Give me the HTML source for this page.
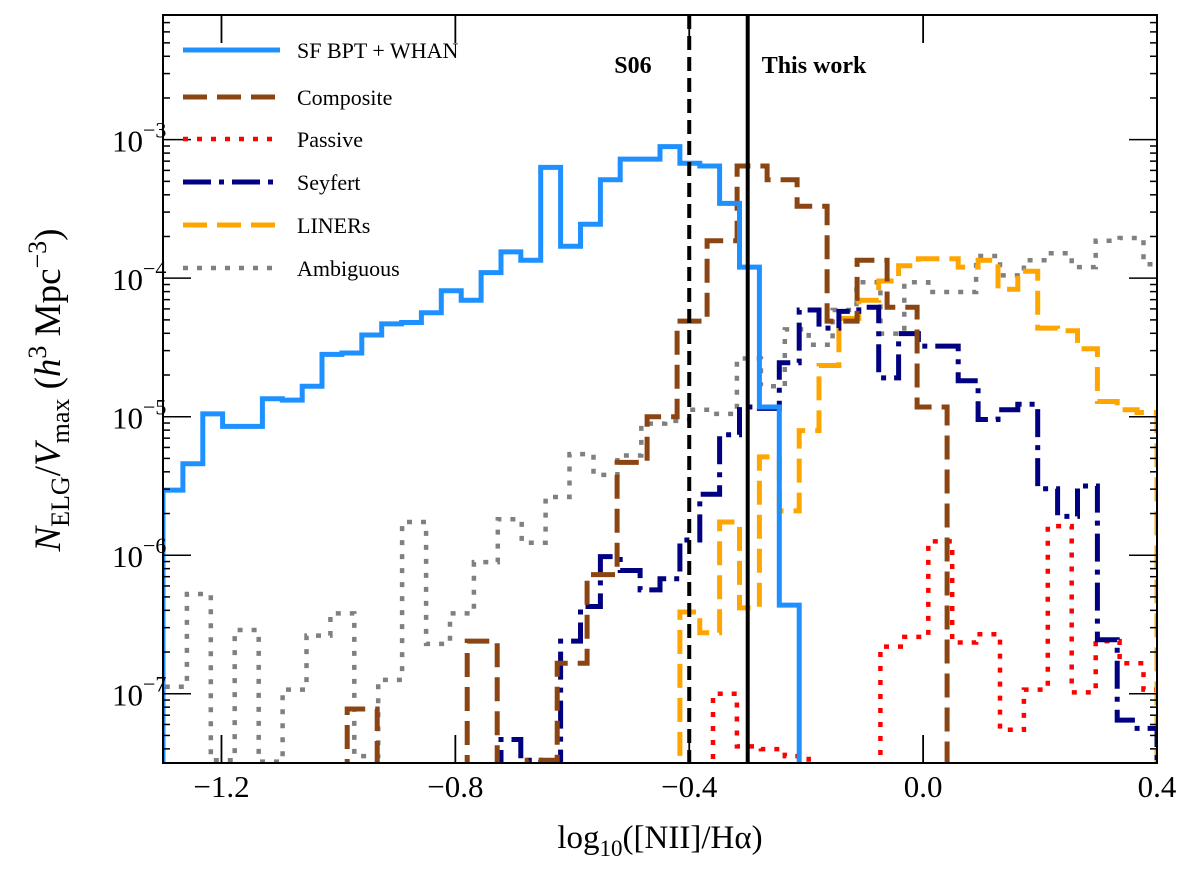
<!DOCTYPE html>
<html><head><meta charset="utf-8">
<style>
html,body{margin:0;padding:0;background:#fff;}
svg{display:block;font-family:"Liberation Serif","DejaVu Serif",serif;}
</style></head>
<body>
<svg id="chart" width="1200" height="881" viewBox="0 0 1200 881" xmlns="http://www.w3.org/2000/svg">
<defs><clipPath id="plotclip"><rect x="163" y="15" width="994" height="748"/></clipPath></defs>
<g id="series" clip-path="url(#plotclip)"></g>
<g id="axes"></g>
<g id="legend"></g>
</svg>
<script>
// Axis domains
const xDomain = [-1.3, 0.4];
const yLogDomain = [-7.5, -2.1];
// x tick labels
const xTicks = [-1.2, -0.8, -0.4, 0.0, 0.4];
const xTickLabels = ["\u22121.2", "\u22120.8", "\u22120.4", "0.0", "0.4"];
const yTickExps = [-7, -6, -5, -4, -3];
// Bin definitions (start, width)
const sfBins = [-1.3, 0.034];
const sfLog = [-5.53,-5.34,-4.98,-5.07,-5.07,-4.87,-4.88,-4.78,-4.55,-4.54,-4.41,-4.33,-4.32,-4.25,-4.09,-4.16,-3.96,-3.81,-3.87,-3.20,-3.77,-3.61,-3.29,-3.14,-3.14,-3.05,-3.17,-3.19,-3.46,-3.92,-4.93,-6.36];
const compBins = [-0.985, 0.0513];
const compLog = [-7.11,null,null,null,-6.62,null,-7.48,-6.78,-6.14,-5.33,-5.00,-4.31,-3.73,-3.19,-3.29,-3.48,-4.31,-3.87,-4.21,-4.93];
const passBins = [-1.3, 0.0409];
const passLog = [null,null,null,null,null,null,null,null,null,null,null,null,null,null,null,null,null,null,null,null,null,null,null,-7.0,-7.38,-7.40,-7.45,null,null,null,-6.66,-6.59,-5.90,-6.63,-6.57,-7.26,-6.97,-5.79,-6.99,-6.62,-6.78,-6.97];
const seyBins = [-1.3, 0.034];
const seyLog = [null,null,null,null,null,null,null,null,null,null,null,null,null,null,null,null,null,-7.33,-7.48,null,-6.62,-6.37,-6.01,-6.11,-6.25,-6.17,-5.89,-5.56,-5.13,-4.93,-4.94,-4.61,-4.23,-4.36,-4.24,-4.21,-4.72,-4.40,-4.49,-4.49,-4.74,-5.02,-4.95,-4.91,-5.52,-5.72,-5.50,-6.61,-7.19,-7.25];
const linBins = [-1.3, 0.034];
const linLog = [null,null,null,null,null,null,null,null,null,null,null,null,null,null,null,null,null,null,null,null,null,null,null,null,null,null,-6.41,-6.56,-5.76,-6.38,-5.29,-5.68,-5.10,-4.63,-4.29,-4.16,-4.02,-3.91,-3.86,-3.86,-3.92,-3.87,-4.08,-3.95,-4.36,-4.38,-4.51,-4.89,-4.95,-4.97];
const ambBins = [-1.3, 0.0409];
const ambLog = [-6.95,-6.28,-7.48,-6.54,-7.49,-6.97,-6.58,-6.42,-7.45,-6.90,-5.76,-6.64,-6.42,-6.05,-5.74,-5.91,-5.58,-5.27,-5.42,-5.28,-5.05,-5.03,-4.95,-4.98,-4.58,-4.78,-4.37,-4.48,-4.23,-4.03,-4.40,-4.03,-4.10,-4.10,-3.84,-3.98,-3.87,-3.82,-3.92,-3.73,-3.71,-3.90];
const refLines = [-0.4, -0.3];
const refLabels = ["S06", "This work"];

const L=163,R=1157,T=15,B=763;
const NS="http://www.w3.org/2000/svg";
function X(v){return L+(v-xDomain[0])/(xDomain[1]-xDomain[0])*(R-L);}
function Y(lg){if(lg===null)return B+20;return B-(lg-yLogDomain[0])/(yLogDomain[1]-yLogDomain[0])*(B-T);}
function mk(tag,attrs,parent){const e=document.createElementNS(NS,tag);for(const k in attrs)e.setAttribute(k,attrs[k]);parent.appendChild(e);return e;}
const gS=document.getElementById('series'),gA=document.getElementById('axes'),gL=document.getElementById('legend');

function stepPath(bins,vals){
  let d="M"+X(bins[0]).toFixed(1)+","+(B+20);
  for(let i=0;i<vals.length;i++){
    const x0=X(bins[0]+i*bins[1]),x1=X(bins[0]+(i+1)*bins[1]),y=Y(vals[i]);
    d+=" L"+x0.toFixed(1)+","+y.toFixed(1)+" L"+x1.toFixed(1)+","+y.toFixed(1);
  }
  d+=" L"+X(bins[0]+vals.length*bins[1]).toFixed(1)+","+(B+20);
  return d;
}
const series=[
  {name:"ambiguous",bins:ambBins,vals:ambLog,color:"#808080",w:4.5,dash:"5,9",label:"Ambiguous"},
  {name:"passive",bins:passBins,vals:passLog,color:"#ff0000",w:4.5,dash:"5,9",label:"Passive"},
  {name:"liners",bins:linBins,vals:linLog,color:"#ffa500",w:5,dash:"24,10",label:"LINERs"},
  {name:"seyfert",bins:seyBins,vals:seyLog,color:"#000080",w:5,dash:"28,8,5,8",label:"Seyfert"},
  {name:"composite",bins:compBins,vals:compLog,color:"#8b4513",w:5,dash:"24,10",label:"Composite"},
  {name:"sf-bpt-whan",bins:sfBins,vals:sfLog,color:"#1e90ff",w:5,dash:"",label:"SF BPT + WHAN"}
];
series.forEach(s=>{
  const p=mk('path',{d:stepPath(s.bins,s.vals),fill:"none",stroke:s.color,"stroke-width":s.w,"stroke-dasharray":s.dash||"none","stroke-linejoin":"miter"},gS);
  
  
});
// reference lines
refLines.forEach((v,i)=>{
  const ln=mk('line',{x1:X(v),x2:X(v),y1:T,y2:B,stroke:"#000","stroke-width":4,"stroke-dasharray":i===0?"14,7":"none"},gS);
  
  
});
const t1=mk('text',{x:X(refLines[0])-75,y:73,"font-size":24,"font-weight":"bold"},gA);t1.textContent=refLabels[0];


const t2=mk('text',{x:X(refLines[1])+14,y:73,"font-size":24,"font-weight":"bold"},gA);t2.textContent=refLabels[1];



// frame
const fr=mk('rect',{x:L,y:T,width:R-L,height:B-T,fill:"none",stroke:"#000","stroke-width":2},gA);


// x ticks
xTicks.forEach((v,i)=>{
  const x=X(v);
  mk('line',{x1:x,x2:x,y1:B,y2:B-28,stroke:"#000","stroke-width":1.8},gA);
  mk('line',{x1:x,x2:x,y1:T,y2:T+28,stroke:"#000","stroke-width":1.8},gA);
  const tx=mk('text',{x:x,y:797,"font-size":31,"text-anchor":"middle"},gA);
  tx.textContent=xTickLabels[i];
  
  
});
// y ticks
for(let d=-8;d<=-2;d++){
  for(let m=1;m<=9;m++){
    const lg=d+Math.log10(m);
    if(lg<yLogDomain[0]||lg>yLogDomain[1])continue;
    const y=Y(lg),len=(m===1)?28:7;
    mk('line',{x1:L,x2:L+len,y1:y,y2:y,stroke:"#000","stroke-width":1.5},gA);
    mk('line',{x1:R,x2:R-len,y1:y,y2:y,stroke:"#000","stroke-width":1.5},gA);
  }
}
yTickExps.forEach(e=>{
  const y=Y(e);
  const tx=mk('text',{x:112,y:y+12,"font-size":31},gA);
  
  
  const a=mk('tspan',{},tx);a.textContent="10";
  const b=mk('tspan',{dy:-14,"font-size":22},tx);b.textContent="\u2212"+Math.abs(e);
});
// axis titles
const xl=mk('text',{x:660,y:848,"font-size":33,"text-anchor":"middle"},gA);


mk('tspan',{},xl).textContent="log";
mk('tspan',{dy:8,"font-size":23},xl).textContent="10";
mk('tspan',{dy:-8},xl).textContent="([NII]/H\u03b1)";
const yl=mk('text',{x:0,y:0,"font-size":37,"text-anchor":"middle",transform:"translate(60,390) rotate(-90)"},gA);


mk('tspan',{"font-style":"italic"},yl).textContent="N";
mk('tspan',{dy:9,"font-size":26},yl).textContent="ELG";
mk('tspan',{dy:-9},yl).textContent="/";
mk('tspan',{"font-style":"italic"},yl).textContent="V";
mk('tspan',{dy:9,"font-size":26},yl).textContent="max";
mk('tspan',{dy:-9},yl).textContent=" (";
mk('tspan',{"font-style":"italic"},yl).textContent="h";
mk('tspan',{dy:-14,"font-size":26},yl).textContent="3";
mk('tspan',{dy:14},yl).textContent=" Mpc";
mk('tspan',{dy:-14,"font-size":26},yl).textContent="\u22123";
mk('tspan',{dy:14},yl).textContent=")";

// legend
const legOrder=[5,4,1,3,2,0];
const legY=[50,97,139,182,225,268];
legOrder.forEach((si,i)=>{
  const s=series[si];
  const g=mk('g',{},gL);
  
  
  mk('line',{x1:183,x2:280,y1:legY[i],y2:legY[i],stroke:s.color,"stroke-width":s.w,"stroke-dasharray":s.dash||"none"},g);
  const t=mk('text',{x:297,y:legY[i]+8,"font-size":22},g);t.textContent=s.label;
});
</script>
</body></html>
